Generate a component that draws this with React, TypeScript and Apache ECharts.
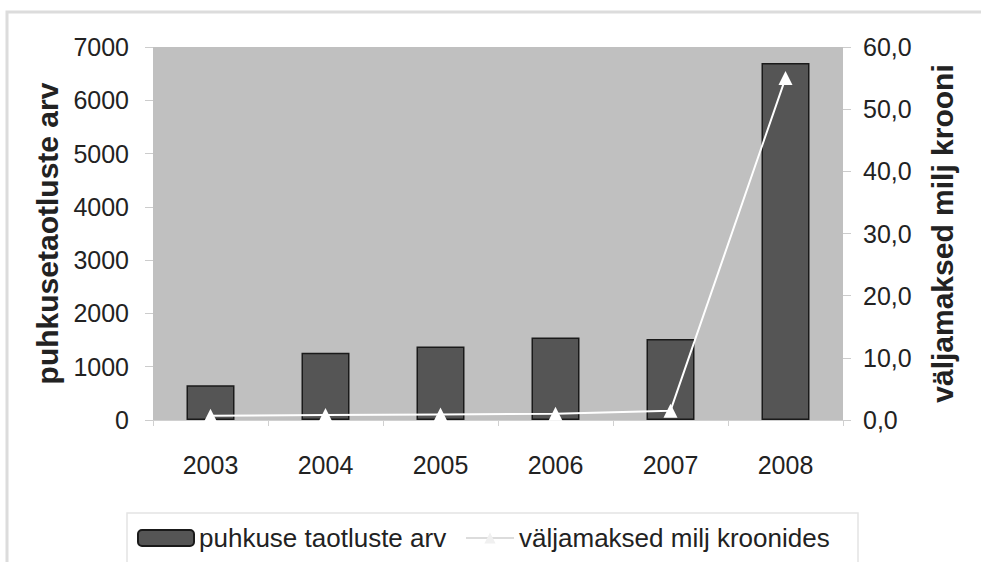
import React, { useEffect, useRef } from "react";
import * as echarts from "echarts";

const years = ["2003", "2004", "2005", "2006", "2007", "2008"];
const applications = [650, 1260, 1380, 1550, 1520, 6700];
const payouts = [0.7, 0.8, 0.9, 1.0, 1.5, 55.0];
const barName = "puhkuse taotluste arv";
const lineName = "väljamaksed milj kroonides";
const leftAxisName = "puhkusetaotluste arv";
const rightAxisName = "väljamaksed milj krooni";

const FONT = "'Liberation Sans', Arial, sans-serif";

export default function App() {
  const ref = useRef<HTMLDivElement>(null);
  useEffect(() => {
    if (!ref.current) return;
    const chart = echarts.init(ref.current, null, { renderer: "svg" });
    chart.setOption({
      animation: false,
      backgroundColor: "#ffffff",
      textStyle: { fontFamily: FONT },
      graphic: [
        {
          type: "rect",
          shape: { x: 7, y: 12, width: 1000, height: 600 },
          style: { fill: "none", stroke: "#dcdcdc", lineWidth: 3 },
          z: -1,
        },
        {
          type: "rect",
          shape: { x: 127, y: 513, width: 731, height: 100 },
          style: { fill: "#ffffff", stroke: "#e4e4e4", lineWidth: 1.5 },
          z: -1,
        },
      ],
      grid: {
        left: 153,
        right: 138,
        top: 47,
        bottom: 142,
        show: true,
        backgroundColor: "#c0c0c0",
        borderWidth: 0,
      },
      legend: [
        {
          data: [barName],
          left: 137,
          top: 525,
          padding: 0,
          itemWidth: 56,
          itemHeight: 16,
          textStyle: { fontSize: 26, color: "#222", fontFamily: FONT },
        },
        {
          data: [
            {
              name: lineName,
              lineStyle: { color: "#dcdcdc", width: 2 },
              itemStyle: { color: "#f0f0f0" },
            },
          ],
          left: 465,
          top: 525,
          padding: 0,
          itemWidth: 48,
          itemHeight: 14,
          itemGap: 5,
          textStyle: { fontSize: 26, color: "#222", fontFamily: FONT },
        },
      ],
      xAxis: {
        type: "category",
        data: years,
        boundaryGap: true,
        axisLine: { show: true, lineStyle: { color: "#d0d0d0", width: 1 } },
        axisTick: { show: true, length: 6, lineStyle: { color: "#d0d0d0" } },
        axisLabel: { fontSize: 25, color: "#222", margin: 32, fontFamily: FONT },
      },
      yAxis: [
        {
          type: "value",
          min: 0,
          max: 7000,
          interval: 1000,
          name: leftAxisName,
          nameLocation: "middle",
          nameRotate: 90,
          nameGap: 89,
          nameTextStyle: { fontSize: 30, fontWeight: "bold", color: "#222", fontFamily: FONT },
          axisLine: { show: false },
          axisTick: { show: true, length: 8, lineStyle: { color: "#cccccc" } },
          axisLabel: {
            fontSize: 25,
            color: "#222",
            margin: 24,
            fontFamily: FONT,
            formatter: (v: number) => String(v),
          },
          splitLine: { show: false },
        },
        {
          type: "value",
          min: 0,
          max: 60,
          interval: 10,
          position: "right",
          name: rightAxisName,
          nameLocation: "middle",
          nameRotate: 90,
          nameGap: 84,
          nameTextStyle: { fontSize: 30, fontWeight: "bold", color: "#222", fontFamily: FONT },
          axisLine: { show: false },
          axisTick: { show: true, length: 8, lineStyle: { color: "#cccccc" } },
          axisLabel: {
            fontSize: 25,
            color: "#222",
            margin: 20,
            fontFamily: FONT,
            formatter: (v: number) => v.toFixed(1).replace(".", ","),
          },
          splitLine: { show: false },
        },
      ],
      series: [
        {
          name: barName,
          type: "bar",
          data: applications,
          yAxisIndex: 0,
          barWidth: 48,
          itemStyle: { color: "#555555", borderColor: "#1a1a1a", borderWidth: 1.5 },
        },
        {
          name: lineName,
          type: "line",
          data: payouts,
          yAxisIndex: 1,
          symbol: "triangle",
          symbolSize: 14,
          lineStyle: { color: "#ffffff", width: 2 },
          itemStyle: { color: "#ffffff" },
          z: 5,
        },
      ],
    });
    return () => chart.dispose();
  }, []);
  return (
    <div
      ref={ref}
      style={{ position: "fixed", left: 0, top: 0, width: 981, height: 562 }}
    />
  );
}
